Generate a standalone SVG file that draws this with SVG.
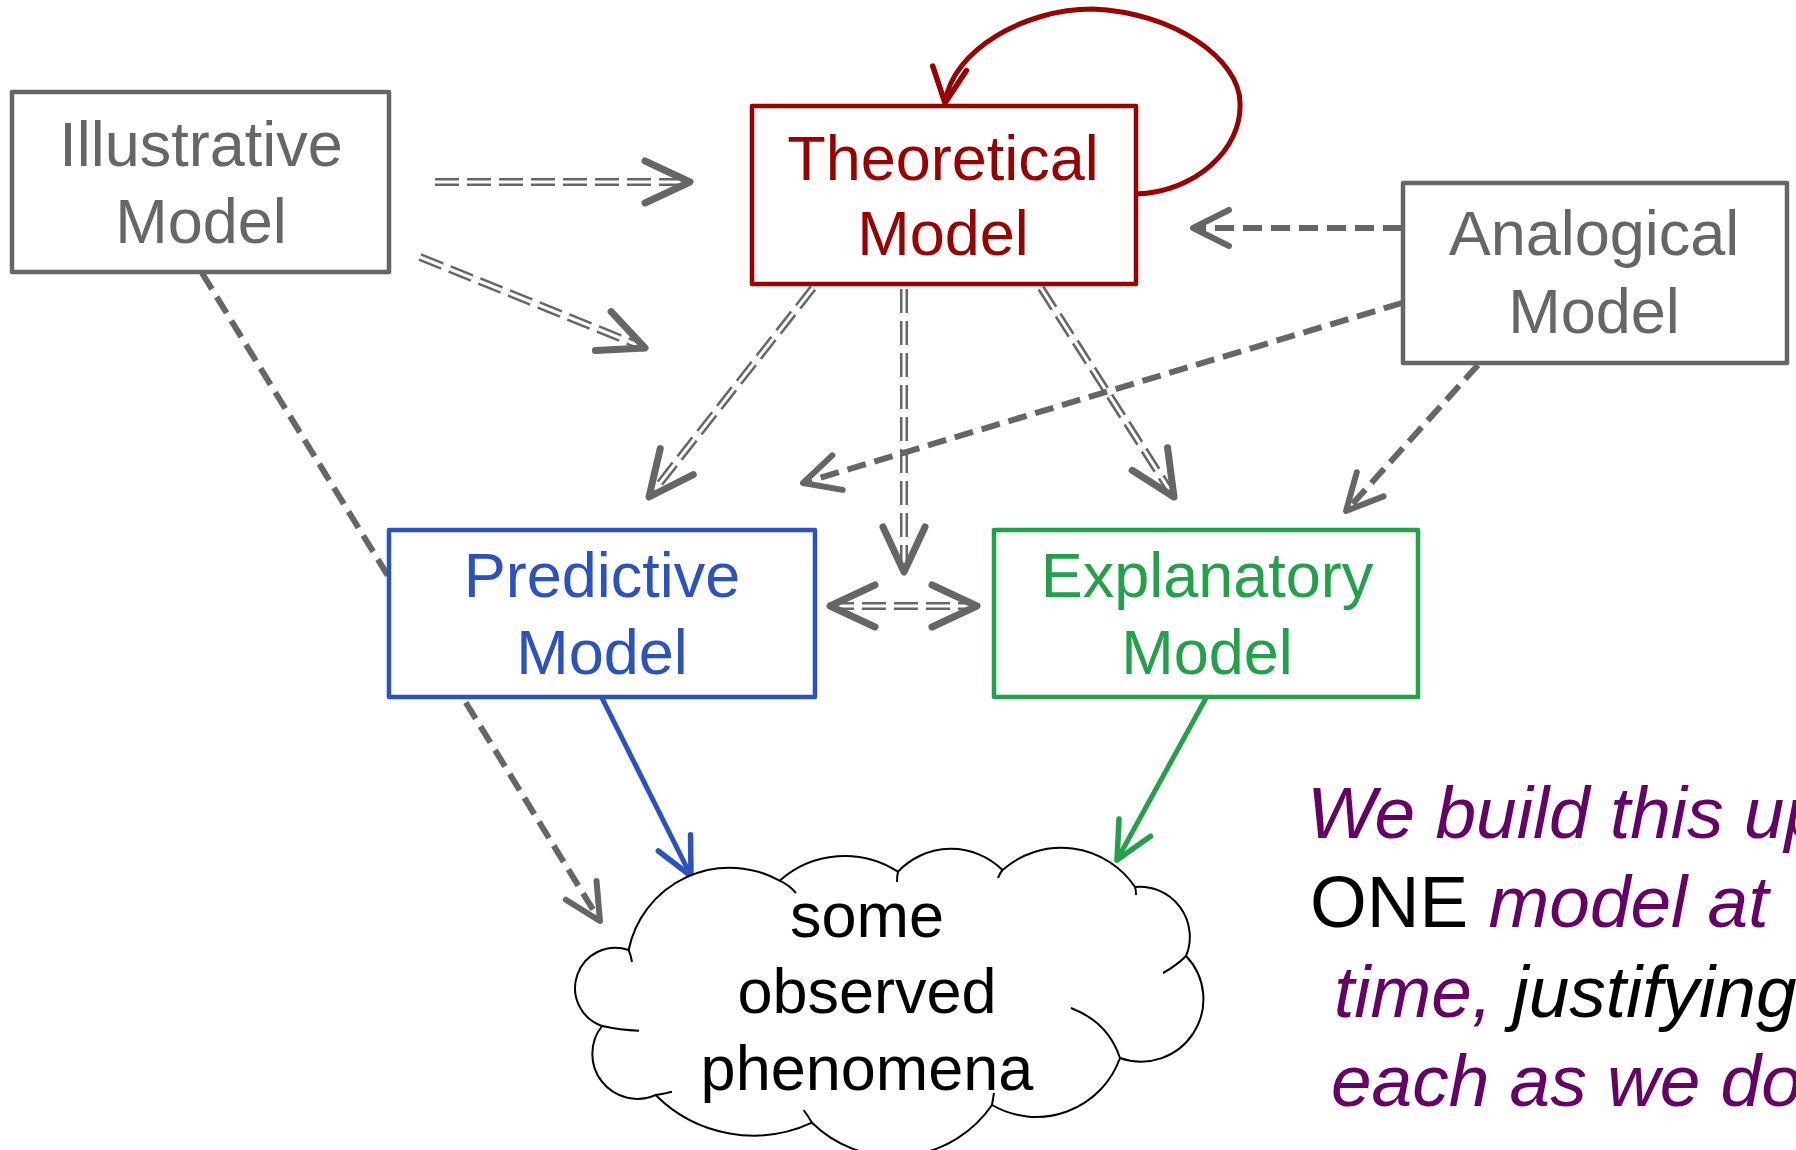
<svg xmlns="http://www.w3.org/2000/svg" width="1796" height="1150" viewBox="0 0 1796 1150">
  <style>
    text { font-family: "Liberation Sans", Arial, sans-serif; }
    .box { fill: #ffffff; stroke-width: 4.5; stroke-linejoin: round; }
    .lbl { font-size: 63px; text-anchor: middle; }
    .gray { stroke: #666666; }
    .red { stroke: #990000; }
    .blue { stroke: #2b52be; }
    .green { stroke: #22a14a; }
    .dbl-out { fill: none; stroke: #666666; stroke-width: 8; stroke-dasharray: 24 8; }
    .dbl-in { fill: none; stroke: #ffffff; stroke-width: 3; stroke-dasharray: 24 8; }
    .dash { fill: none; stroke: #666666; stroke-width: 6; stroke-dasharray: 19 9; }
    .solid { fill: none; stroke-width: 5; stroke-linecap: round; }
    .cloud { fill: #ffffff; stroke: #000000; stroke-width: 2; }
    .note { font-size: 73px; font-style: italic; fill: #660066; }
  </style>
  <defs>
    <marker id="head-dbl" markerUnits="userSpaceOnUse" orient="auto-start-reverse" refX="0" refY="0" overflow="visible">
      <path d="M-45,-21 L0,0 L-45,21" fill="none" stroke="#666666" stroke-width="7" stroke-linecap="round" stroke-linejoin="round"/>
    </marker>
    <marker id="head-gray" markerUnits="userSpaceOnUse" orient="auto" refX="0" refY="0" overflow="visible">
      <path d="M-36,-18 L0,0 L-36,18" fill="none" stroke="#666666" stroke-width="6" stroke-linecap="round" stroke-linejoin="round"/>
    </marker>
    <marker id="head-blue" markerUnits="userSpaceOnUse" orient="auto" refX="0" refY="0" overflow="visible">
      <path d="M-37,-18 L0,0 L-37,18" fill="none" stroke="#2b52be" stroke-width="5.5" stroke-linecap="round" stroke-linejoin="round"/>
    </marker>
    <marker id="head-green" markerUnits="userSpaceOnUse" orient="auto" refX="0" refY="0" overflow="visible">
      <path d="M-37,-18 L0,0 L-37,18" fill="none" stroke="#22a14a" stroke-width="5.5" stroke-linecap="round" stroke-linejoin="round"/>
    </marker>
    <marker id="head-red" markerUnits="userSpaceOnUse" orient="auto" refX="0" refY="0" overflow="visible">
      <path d="M-35,-17 L0,0 L-35,17" fill="none" stroke="#990000" stroke-width="5.5" stroke-linecap="round" stroke-linejoin="round"/>
    </marker>
  </defs>

  <rect width="1796" height="1150" fill="#ffffff"/>

  <g id="connectors">
    <!-- Illustrative -> phenomena (runs behind the Predictive box) -->
    <path class="dash" d="M202,273 L600,921" marker-end="url(#head-gray)"/>

    <!-- Illustrative -> Theoretical -->
    <path class="dbl-out" d="M435,182 L690,182"/>
    <path class="dbl-in" d="M435,182 L690,182" marker-end="url(#head-dbl)"/>

    <!-- Illustrative -> (diagonal) -->
    <path class="dbl-out" d="M420,257 L645,348"/>
    <path class="dbl-in" d="M420,257 L645,348" marker-end="url(#head-dbl)"/>

    <!-- Theoretical -> Predictive -->
    <path class="dbl-out" d="M813,288 L649,497"/>
    <path class="dbl-in" d="M813,288 L649,497" marker-end="url(#head-dbl)"/>

    <!-- Theoretical -> between Predictive and Explanatory -->
    <path class="dbl-out" d="M904,289 L904,572"/>
    <path class="dbl-in" d="M904,289 L904,572" marker-end="url(#head-dbl)"/>

    <!-- Theoretical -> Explanatory -->
    <path class="dbl-out" d="M1041,288 L1174,497"/>
    <path class="dbl-in" d="M1041,288 L1174,497" marker-end="url(#head-dbl)"/>

    <!-- Predictive <-> Explanatory -->
    <path class="dbl-out" d="M830,606 L977,606"/>
    <path class="dbl-in" d="M830,606 L977,606" marker-start="url(#head-dbl)" marker-end="url(#head-dbl)"/>

    <!-- Analogical -> Theoretical -->
    <path class="dash" d="M1402,228 L1193,228" marker-end="url(#head-gray)"/>

    <!-- Analogical -> Predictive -->
    <path class="dash" d="M1402,303 L803,483" marker-end="url(#head-gray)"/>

    <!-- Analogical -> Explanatory -->
    <path class="dash" d="M1478,365 L1346,511" marker-end="url(#head-gray)"/>

    <!-- Theoretical self-loop -->
    <path class="solid red" d="M1136,194 C1195,192 1242,150 1240,103 C1240,60 1175,12 1092,9 C1025,9 952,50 945,103" marker-end="url(#head-red)"/>

    <!-- Predictive -> phenomena -->
    <path class="solid blue" d="M602,698 L691,876" marker-end="url(#head-blue)"/>

    <!-- Explanatory -> phenomena -->
    <path class="solid green" d="M1206,698 L1117,860" marker-end="url(#head-green)"/>
  </g>

  <g id="illustrative">
    <rect class="box gray" x="12" y="92" width="377" height="180"/>
    <text class="lbl" x="201" y="166" fill="#666666">Illustrative</text>
    <text class="lbl" x="201" y="243" fill="#666666">Model</text>
  </g>

  <g id="theoretical">
    <rect class="box red" x="752" y="106" width="384" height="178"/>
    <text class="lbl" x="943" y="180" fill="#990000">Theoretical</text>
    <text class="lbl" x="943" y="255" fill="#990000">Model</text>
  </g>

  <g id="analogical">
    <rect class="box gray" x="1403" y="183" width="384" height="180"/>
    <text class="lbl" x="1594" y="255" fill="#666666">Analogical</text>
    <text class="lbl" x="1594" y="333" fill="#666666">Model</text>
  </g>

  <g id="predictive">
    <rect class="box blue" x="389" y="530" width="426" height="167"/>
    <text class="lbl" x="602" y="597" fill="#2b52be">Predictive</text>
    <text class="lbl" x="602" y="674" fill="#2b52be">Model</text>
  </g>

  <g id="explanatory">
    <rect class="box green" x="994" y="530" width="424" height="167"/>
    <text class="lbl" x="1207" y="597" fill="#22a14a">Explanatory</text>
    <text class="lbl" x="1207" y="674" fill="#22a14a">Model</text>
  </g>

  <g id="phenomena">
    <path class="cloud" d="M628.6,950 A103,103 0 0 1 779.6,880.7 A98,98 0 0 1 898,871.7 A73,73 0 0 1 1002.5,870 A89,89 0 0 1 1135,887 A50,50 0 0 1 1186,956 A62.4,62.4 0 0 1 1120,1058 A88.7,88.7 0 0 1 992,1105 A118,118 0 0 1 812,1122.7 A138.6,138.6 0 0 1 655.6,1095 A45,45 0 0 1 602,1026 A40,40 0 0 1 628.6,950 Z"/>
    <path fill="none" stroke="#000000" stroke-width="2" d="M628.6,950 Q631,955 632,962 M779.6,880.7 Q789,885 796,893 M898,871.7 Q897,876 897,882 M1002.5,870 Q1000,873 998,878 M1135,887 Q1136,890 1136,895 M1186,956 Q1176,966 1163,973 M1071,1008 Q1108,1022 1120,1058 M994,1093 Q993,1099 992,1105 M803.6,1110 Q808,1116 812,1122.7 M672,1091.7 Q663,1094 655.6,1095 M639,1030.7 Q620,1030 602,1026"/>
    <text class="lbl" x="867" y="937" fill="#000000">some</text>
    <text class="lbl" x="867" y="1013" fill="#000000">observed</text>
    <text class="lbl" x="867" y="1090" fill="#000000">phenomena</text>
  </g>

  <g id="note">
    <text class="note" x="1307" y="838">We build this up</text>
    <text class="note" x="1310" y="927"><tspan fill="#000000" font-style="normal">ONE</tspan> model at</text>
    <text class="note" x="1334" y="1017">time, <tspan fill="#000000">justifying</tspan></text>
    <text class="note" x="1331" y="1106">each as we do</text>
  </g>
</svg>
